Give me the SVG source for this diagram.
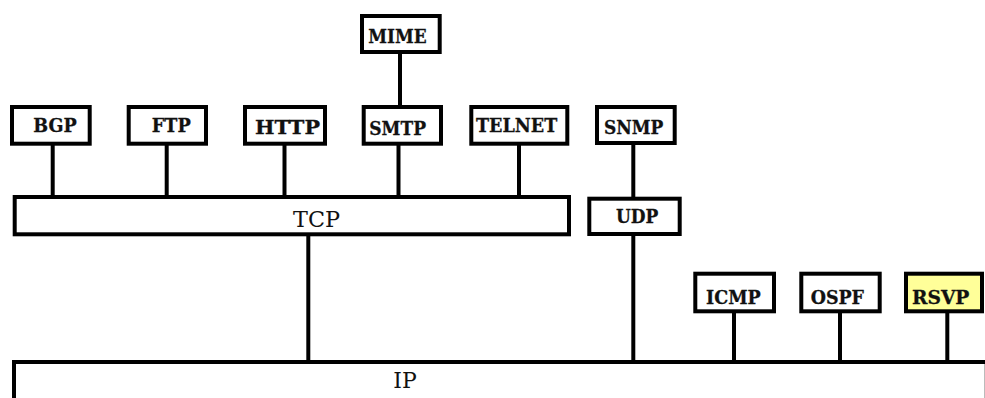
<svg xmlns="http://www.w3.org/2000/svg" width="985" height="398" viewBox="0 0 985 398">
<style>
.box{fill:#ffffff;stroke:#000000;stroke-width:4}
.hl{fill:#ffff99}
.lbl{font-family:"DejaVu Serif","Liberation Serif",serif;font-size:18px;font-weight:600;fill:#111111;stroke:#111111;stroke-width:0.3}
.big{font-family:"DejaVu Serif","Liberation Serif",serif;font-size:23px;fill:#111111}
.con{stroke:#000000;stroke-width:4;fill:none}
</style>
<rect width="985" height="398" fill="#ffffff"/>
<g id="connectors">
<line class="con" x1="400" y1="54" x2="400" y2="106"/>
<line class="con" x1="52.7" y1="145" x2="52.7" y2="196"/>
<line class="con" x1="166.7" y1="145" x2="166.7" y2="196"/>
<line class="con" x1="284.5" y1="145" x2="284.5" y2="196"/>
<line class="con" x1="398.5" y1="145" x2="398.5" y2="196"/>
<line class="con" x1="519" y1="145" x2="519" y2="196"/>
<line class="con" x1="633.3" y1="145" x2="633.3" y2="197"/>
<line class="con" x1="308.3" y1="235" x2="308.3" y2="361"/>
<line class="con" x1="633.3" y1="235" x2="633.3" y2="361"/>
<line class="con" x1="734" y1="312" x2="734" y2="361"/>
<line class="con" x1="840" y1="312" x2="840" y2="361"/>
<line class="con" x1="947.3" y1="312" x2="947.3" y2="361"/>
</g>
<g id="IP">
<rect class="box" x="14" y="362" width="980" height="60"/>
<line x1="984.5" y1="364" x2="984.5" y2="398" stroke="#bbbbbb" stroke-width="1"/>
<text class="big" x="393.3" y="388" textLength="23.4" lengthAdjust="spacingAndGlyphs">IP</text>
</g>
<g id="TCP">
<rect class="box" x="14.7" y="197" width="554.3" height="37.3"/>
<text class="big" x="293" y="226.7" textLength="47" lengthAdjust="spacingAndGlyphs">TCP</text>
</g>
<g id="UDP">
<rect class="box" x="589.3" y="198.7" width="90.4" height="35.3"/>
<text class="lbl" x="616" y="222.7" textLength="42.3" lengthAdjust="spacingAndGlyphs">UDP</text>
</g>
<g id="MIME">
<rect class="box" x="362" y="16" width="77.7" height="36"/>
<text class="lbl" x="368.3" y="43.3" textLength="58.4" lengthAdjust="spacingAndGlyphs">MIME</text>
</g>
<g id="BGP">
<rect class="box" x="12" y="107" width="77.7" height="36.7"/>
<text class="lbl" x="33.3" y="131.7" textLength="43.4" lengthAdjust="spacingAndGlyphs">BGP</text>
</g>
<g id="FTP">
<rect class="box" x="128.7" y="107" width="77.3" height="36.7"/>
<text class="lbl" x="151.7" y="131.7" textLength="39" lengthAdjust="spacingAndGlyphs">FTP</text>
</g>
<g id="HTTP">
<rect class="box" x="245" y="107" width="80" height="36.7"/>
<text class="lbl" x="255" y="134" textLength="65" lengthAdjust="spacingAndGlyphs">HTTP</text>
</g>
<g id="SMTP">
<rect class="box" x="363.7" y="107" width="77.3" height="36.7"/>
<text class="lbl" x="369.3" y="134.5" textLength="56.7" lengthAdjust="spacingAndGlyphs">SMTP</text>
</g>
<g id="TELNET">
<rect class="box" x="471.3" y="107" width="96" height="36.7"/>
<text class="lbl" x="476" y="131.7" textLength="81.3" lengthAdjust="spacingAndGlyphs">TELNET</text>
</g>
<g id="SNMP">
<rect class="box" x="597" y="107" width="77.7" height="36"/>
<text class="lbl" x="604" y="134.3" textLength="59.3" lengthAdjust="spacingAndGlyphs">SNMP</text>
</g>
<g id="ICMP">
<rect class="box" x="695.3" y="273.7" width="78.7" height="37.6"/>
<text class="lbl" x="706" y="304" textLength="54.7" lengthAdjust="spacingAndGlyphs">ICMP</text>
</g>
<g id="OSPF">
<rect class="box" x="801.3" y="273.7" width="78.4" height="37.6"/>
<text class="lbl" x="810.7" y="304" textLength="53.3" lengthAdjust="spacingAndGlyphs">OSPF</text>
</g>
<g id="RSVP">
<rect class="box hl" x="906" y="273.7" width="76" height="37.6"/>
<text class="lbl" x="912" y="304" textLength="57.3" lengthAdjust="spacingAndGlyphs">RSVP</text>
</g>
</svg>
